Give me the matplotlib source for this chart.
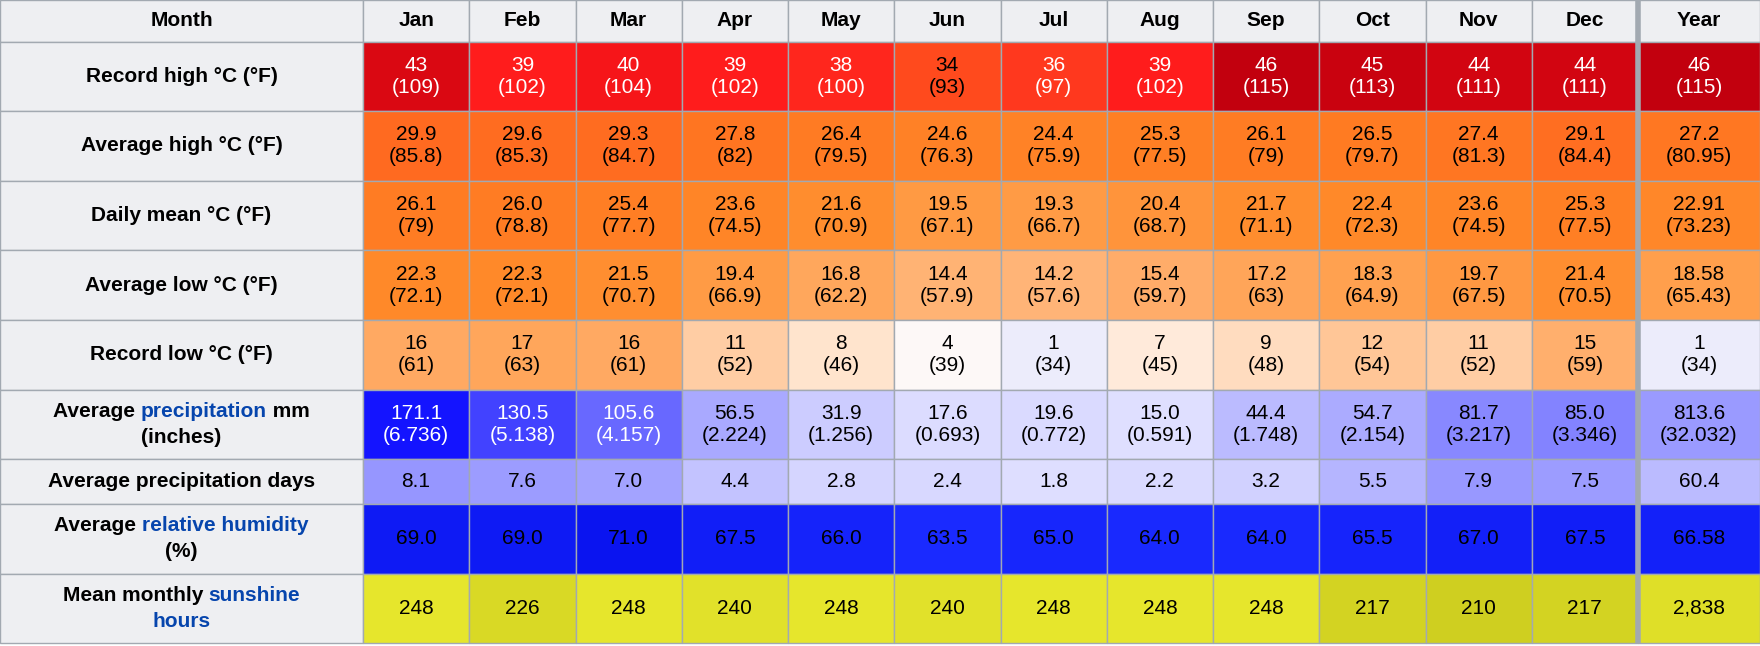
import matplotlib
matplotlib.use("Agg")
import matplotlib.pyplot as plt
from matplotlib.colors import LinearSegmentedColormap, to_hex

plt.rcParams["font.family"] = ["Liberation Sans", "DejaVu Sans"]

months = ["Jan", "Feb", "Mar", "Apr", "May", "Jun", "Jul", "Aug", "Sep", "Oct", "Nov", "Dec"]

rec_high_c = [43, 39, 40, 39, 38, 34, 36, 39, 46, 45, 44, 44, 46]
rec_high_f = ["109", "102", "104", "102", "100", "93", "97", "102", "115", "113", "111", "111", "115"]
avg_high_c = ["29.9", "29.6", "29.3", "27.8", "26.4", "24.6", "24.4", "25.3", "26.1", "26.5", "27.4", "29.1", "27.2"]
avg_high_f = ["85.8", "85.3", "84.7", "82", "79.5", "76.3", "75.9", "77.5", "79", "79.7", "81.3", "84.4", "80.95"]
mean_c = ["26.1", "26.0", "25.4", "23.6", "21.6", "19.5", "19.3", "20.4", "21.7", "22.4", "23.6", "25.3", "22.91"]
mean_f = ["79", "78.8", "77.7", "74.5", "70.9", "67.1", "66.7", "68.7", "71.1", "72.3", "74.5", "77.5", "73.23"]
avg_low_c = ["22.3", "22.3", "21.5", "19.4", "16.8", "14.4", "14.2", "15.4", "17.2", "18.3", "19.7", "21.4", "18.58"]
avg_low_f = ["72.1", "72.1", "70.7", "66.9", "62.2", "57.9", "57.6", "59.7", "63", "64.9", "67.5", "70.5", "65.43"]
rec_low_c = ["16", "17", "16", "11", "8", "4", "1", "7", "9", "12", "11", "15", "1"]
rec_low_f = ["61", "63", "61", "52", "46", "39", "34", "45", "48", "54", "52", "59", "34"]
precip_mm = ["171.1", "130.5", "105.6", "56.5", "31.9", "17.6", "19.6", "15.0", "44.4", "54.7", "81.7", "85.0", "813.6"]
precip_in = ["6.736", "5.138", "4.157", "2.224", "1.256", "0.693", "0.772", "0.591", "1.748", "2.154", "3.217", "3.346", "32.032"]
precip_days = ["8.1", "7.6", "7.0", "4.4", "2.8", "2.4", "1.8", "2.2", "3.2", "5.5", "7.9", "7.5", "60.4"]
humidity = ["69.0", "69.0", "71.0", "67.5", "66.0", "63.5", "65.0", "64.0", "64.0", "65.5", "67.0", "67.5", "66.58"]
sunshine = ["248", "226", "248", "240", "248", "240", "248", "248", "248", "217", "210", "217", "2,838"]

W, H = 1760, 646
label_w = 363
month_w = (1638 - label_w) / 12
year_w = W - 1638
header_h = 41.5
row_hs = [69.6] * 6 + [45] + [69.6] * 2

temp_cmap = LinearSegmentedColormap.from_list("t", [
    (0.0, "#e6e6fa"), (0.07, "#fcfcff"), (0.16, "#ffe8d5"), (0.22, "#ffd4b0"),
    (0.33, "#ffad6a"), (0.40, "#ffa04e"), (0.48, "#ff8a2a"), (0.58, "#ff7a22"),
    (0.65, "#ff6a20"), (0.70, "#ff5a1c"), (0.78, "#ff3a1e"), (0.85, "#ff1c1c"),
    (0.90, "#e80c14"), (1.0, "#c2000e")])
precip_cmap = LinearSegmentedColormap.from_list("p", [
    (0.0, "#ececff"), (0.1, "#dcdcff"), (0.2, "#c8c8ff"), (0.3, "#aeaeff"),
    (0.5, "#8080ff"), (0.62, "#6464ff"), (0.78, "#3838ff"), (1.0, "#1010ff")])
sun_cmap = LinearSegmentedColormap.from_list("s", ["#cfcf20", "#e6e62c"])


def tcol(v):
    return to_hex(temp_cmap(float(v) / 46.0))


def pcol(v):
    return to_hex(precip_cmap(min(float(v) / 175.0, 1)))


def dcol(v):
    return to_hex(precip_cmap(min(float(v) / 20.0, 1)))


def hcol(v):
    x = (float(v) - 63.5) / 7.5
    return to_hex(LinearSegmentedColormap.from_list("h", ["#1a2aff", "#0a14f0"])(x))


def scol(v):
    return to_hex(sun_cmap((float(v) - 210) / 38))


def two(a, b):
    return [f"{x}\n({y})" for x, y in zip(a, b)]


# label, values, colours, luminance threshold for white text
rows = [
    ("Record high °C (°F)", two(rec_high_c, rec_high_f), [tcol(v) for v in rec_high_c], 0.45),
    ("Average high °C (°F)", two(avg_high_c, avg_high_f), [tcol(v) for v in avg_high_c], 0.45),
    ("Daily mean °C (°F)", two(mean_c, mean_f), [tcol(v) for v in mean_c], 0.45),
    ("Average low °C (°F)", two(avg_low_c, avg_low_f), [tcol(v) for v in avg_low_c], 0.45),
    ("Record low °C (°F)", two(rec_low_c, rec_low_f), [tcol(v) for v in rec_low_c], 0.45),
    ("precip", two(precip_mm, precip_in),
     [pcol(v) for v in precip_mm[:12]] + [pcol(float(precip_mm[12]) / 12)], 0.5),
    ("Average precipitation days", precip_days,
     [dcol(v) for v in precip_days[:12]] + [dcol(float(precip_days[12]) / 12)], 0.3),
    ("humid", humidity, [hcol(v) for v in humidity], 0.0),
    ("sun", sunshine, [scol(v) for v in sunshine[:12]] + [scol(2838 / 12)], 0.3),
]

fig = plt.figure(figsize=(W / 100, H / 100), dpi=100)
ax = fig.add_axes([0, 0, 1, 1])
ax.set_xlim(0, W)
ax.set_ylim(H, 0)
ax.axis("off")

border = "#a2a9b1"
hdr_bg = "#eeeff2"
FS = 15


def col_x(j):
    return label_w + j * month_w


def cell(x, y, w, h, color):
    ax.add_patch(plt.Rectangle((x, y), w, h, facecolor=color, edgecolor=border, lw=1))


cell(0, 0, label_w, header_h, hdr_bg)
ax.text(label_w / 2, header_h / 2, "Month", ha="center", va="center", fontsize=FS, fontweight="bold")
for j, m in enumerate(months + ["Year"]):
    x = col_x(j)
    w = month_w if j < 12 else year_w
    cell(x, 0, w, header_h, hdr_bg)
    ax.text(x + w / 2, header_h / 2, m, ha="center", va="center", fontsize=FS, fontweight="bold")

blue = "#0645ad"
fig.canvas.draw()
renderer = fig.canvas.get_renderer()


def rich_line(parts, cx, cy):
    ts = [ax.text(0, cy, s, ha="left", va="center", fontsize=FS, fontweight="bold", color=c)
          for s, c in parts]
    widths = [t.get_window_extent(renderer).width for t in ts]
    x0 = cx - sum(widths) / 2
    for t, w in zip(ts, widths):
        t.set_x(x0)
        x0 += w


y = header_h
for (label, vals, cols, thr), h in zip(rows, row_hs):
    cell(0, y, label_w, h, hdr_bg)
    cy = y + h / 2
    if label == "precip":
        rich_line([("Average ", "black"), ("precipitation", blue), (" mm", "black")], label_w / 2, cy - 13)
        rich_line([("(inches)", "black")], label_w / 2, cy + 13)
    elif label == "humid":
        rich_line([("Average ", "black"), ("relative humidity", blue)], label_w / 2, cy - 13)
        rich_line([("(%)", "black")], label_w / 2, cy + 13)
    elif label == "sun":
        rich_line([("Mean monthly ", "black"), ("sunshine", blue)], label_w / 2, cy - 13)
        rich_line([("hours", blue)], label_w / 2, cy + 13)
    else:
        ax.text(label_w / 2, cy, label, ha="center", va="center", fontsize=FS, fontweight="bold")
    for j, (v, c) in enumerate(zip(vals, cols)):
        x = col_x(j)
        w = month_w if j < 12 else year_w
        cell(x, y, w, h, c)
        r, g, b = matplotlib.colors.to_rgb(c)
        lum = 0.299 * r + 0.587 * g + 0.114 * b
        tc = "white" if lum < thr else "black"
        ax.text(x + w / 2, cy, v, ha="center", va="center", fontsize=FS, color=tc,
                linespacing=1.2)
    y += h

ax.plot([1638, 1638], [0, y], color="#a2a9b1", lw=4, solid_capstyle="butt")

fig.savefig("out.png", dpi=100)
